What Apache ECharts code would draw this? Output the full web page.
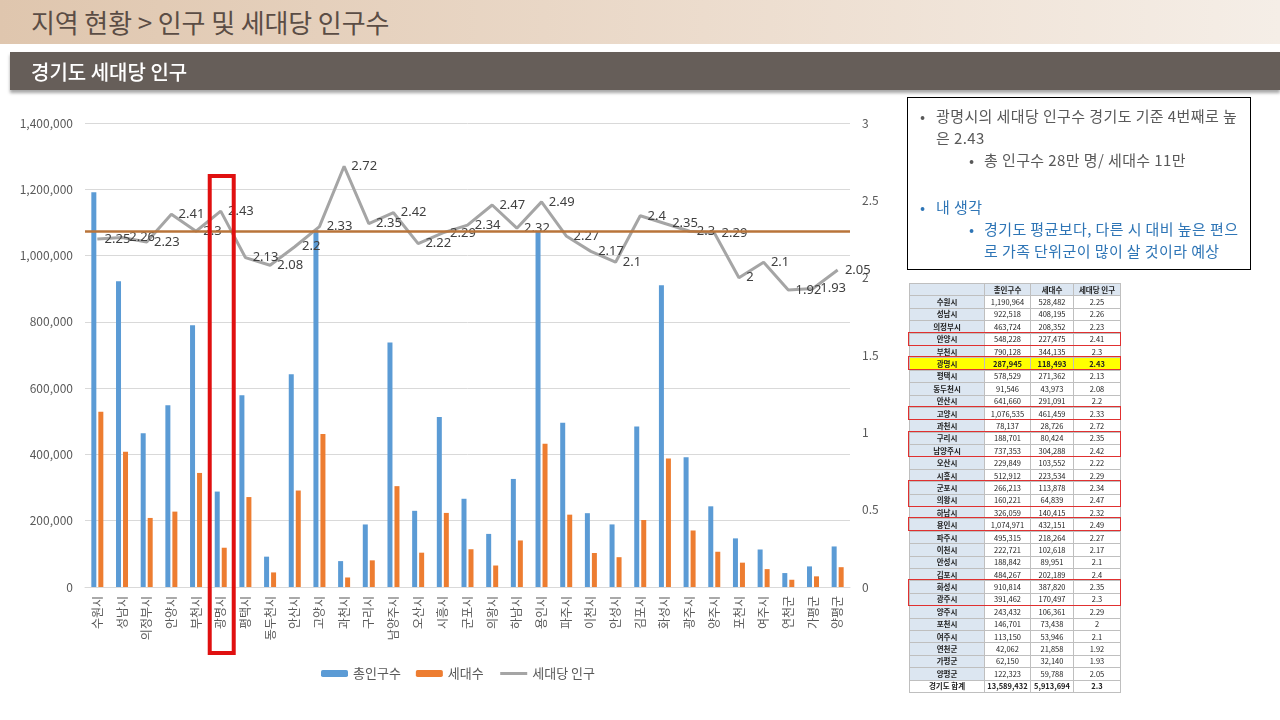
<!DOCTYPE html>
<html><head><meta charset="utf-8">
<script src="https://cdn.jsdelivr.net/npm/echarts@6/dist/echarts.min.js"></script>
<style>
body{margin:0;width:1280px;height:720px;overflow:hidden;background:#fff;font-family:"Noto Sans CJK KR","Noto Sans",sans-serif;position:relative}
#chart{position:absolute;left:0;top:0;width:1280px;height:720px}
#hdr{position:absolute;left:0;top:0;width:1280px;height:44px;background:linear-gradient(to right,#dfc6ae,#ecdccd 55%,#f5eee7);}
#hdr span{position:absolute;left:31px;top:3px;font-size:26px;color:#5b4d45;letter-spacing:-0.1px}
#sub{position:absolute;left:10px;top:52px;width:1270px;height:38px;background:#665e59;box-shadow:0 3px 3px rgba(0,0,0,0.35)}
#sub span{position:absolute;left:21px;top:5px;font-size:20px;color:#fff;font-weight:500}
#note{position:absolute;left:907px;top:97px;width:342px;height:171px;border:1px solid #000;font-size:15px;color:#595959;line-height:22px;letter-spacing:0.4px}
#note .b{position:absolute;white-space:nowrap}
#tbl{position:absolute;left:909px;top:283px;border-collapse:collapse;font-size:7.5px;color:#222;table-layout:fixed}
#tbl td{height:11.4px;padding:0;text-align:center;border:1px solid #bfbfbf;line-height:10px}
#tbl td.n{background:#dce6f1;font-weight:bold}
#tbl tr.h td{background:#dce6f1;font-weight:bold}
#tbl tr.y td{background:#ffff00;font-weight:bold}
#tbl tr.t td{font-weight:bold;background:#fff}
.rb{position:absolute;border:1.5px solid #e03030;box-sizing:border-box;left:908px;width:213px}
</style></head>
<body>
<div id="chart"></div>
<div id="hdr"><span>지역 현황 &gt; 인구 및 세대당 인구수</span></div>
<div id="sub"><span>경기도 세대당 인구</span></div>
<div id="note">
 <div class="b" style="left:12px;top:7px">•</div>
 <div class="b" style="left:28px;top:7px">광명시의 세대당 인구수 경기도 기준 4번째로 높<br>은 2.43</div>
 <div class="b" style="left:61px;top:51px">•</div>
 <div class="b" style="left:76px;top:51px">총 인구수 28만 명/ 세대수 11만</div>
 <div class="b" style="left:12px;top:98px;color:#2e75b6">•</div>
 <div class="b" style="left:28px;top:98px;color:#2e75b6">내 생각</div>
 <div class="b" style="left:61px;top:120px;color:#2e75b6">•</div>
 <div class="b" style="left:76px;top:120px;color:#2e75b6">경기도 평균보다, 다른 시 대비 높은 편으<br>로 가족 단위군이 많이 살 것이라 예상</div>
</div>
<table id="tbl"></table>
<script>
const categories = ['수원시','성남시','의정부시','안양시','부천시','광명시','평택시','동두천시','안산시','고양시','과천시','구리시','남양주시','오산시','시흥시','군포시','의왕시','하남시','용인시','파주시','이천시','안성시','김포시','화성시','광주시','양주시','포천시','여주시','연천군','가평군','양평군'];
const population = [1190964,922518,463724,548228,790128,287945,578529,91546,641660,1076535,78137,188701,737353,229849,512912,266213,160221,326059,1074971,495315,222721,188842,484267,910814,391462,243432,146701,113150,42062,62150,122323];
const households = [528482,408195,208352,227475,344135,118493,271362,43973,291091,461459,28726,80424,304288,103552,223534,113878,64839,140415,432151,218264,102618,89951,202189,387820,170497,106361,73438,53946,21858,32140,59788];
const perHousehold = [2.25,2.26,2.23,2.41,2.3,2.43,2.13,2.08,2.2,2.33,2.72,2.35,2.42,2.22,2.29,2.34,2.47,2.32,2.49,2.27,2.17,2.1,2.4,2.35,2.3,2.29,2,2.1,1.92,1.93,2.05];
const seriesNames = ['총인구수','세대수','세대당 인구'];
const provinceAverage = 2.3;
const totalRow = ['경기도 합계','13,589,432','5,913,694','2.3'];
const tableHeader = ['','총인구수','세대수','세대당 인구'];
const highlightCity = '광명시';
const boxedGroups = [['안양시'],['고양시'],['구리시','남양주시'],['군포시','의왕시'],['용인시'],['화성시','광주시']];

// table
const fmt = v => v.toLocaleString('en-US');
const tbl = document.getElementById('tbl');
let html = '<colgroup><col style="width:75px"><col style="width:46px"><col style="width:43px"><col style="width:47px"></colgroup>';
html += '<tr class="h">' + tableHeader.map(h => '<td>' + h + '</td>').join('') + '</tr>';
categories.forEach((c, i) => {
  html += '<tr' + (c === highlightCity ? ' class="y"' : '') + '><td class="n">' + c + '</td><td>' + fmt(population[i]) + '</td><td>' + fmt(households[i]) + '</td><td>' + perHousehold[i] + '</td></tr>';
});
html += '<tr class="t">' + totalRow.map((t, i) => '<td' + (i === 0 ? ' class="n"' : '') + '>' + t + '</td>').join('') + '</tr>';
tbl.innerHTML = html;
const rows = tbl.rows;
function boxRows(names) {
  const a = rows[categories.indexOf(names[0]) + 1], b = rows[categories.indexOf(names[names.length - 1]) + 1];
  const top = a.offsetTop + tbl.offsetTop, bottom = b.offsetTop + b.offsetHeight + tbl.offsetTop;
  const d = document.createElement('div');
  d.className = 'rb';
  d.style.top = (top - 1) + 'px';
  d.style.height = (bottom - top + 2) + 'px';
  document.body.appendChild(d);
}
boxedGroups.forEach(boxRows);
boxRows([highlightCity]);

const chart = echarts.init(document.getElementById('chart'));
const axisText = {color:'#595959', fontSize:12, fontFamily:'"Noto Sans CJK KR", sans-serif'};
chart.setOption({
  animation:false,
  grid:{left:85, right:430, top:123, bottom:133},
  legend:{
    data:[seriesNames[0], seriesNames[1],
      {name:seriesNames[2], itemStyle:{color:'rgba(0,0,0,0)', borderWidth:0, opacity:0}, lineStyle:{width:3, color:'#a5a5a5'}}],
    left:316, top:662, itemGap:15, itemWidth:27, itemHeight:7,
    textStyle:{color:'#595959', fontSize:13, fontFamily:'"Noto Sans CJK KR", sans-serif'}
  },
  xAxis:{
    type:'category', data:categories,
    axisLine:{lineStyle:{color:'#d9d9d9'}}, axisTick:{show:false},
    axisLabel:Object.assign({rotate:90, interval:0, margin:9}, axisText)
  },
  yAxis:[
    {type:'value', min:0, max:1400000, interval:200000,
     axisLabel:Object.assign({formatter:v => v.toLocaleString('en-US'), margin:12}, axisText),
     splitLine:{lineStyle:{color:'#d9d9d9'}}},
    {type:'value', min:0, max:3, interval:0.5,
     axisLabel:Object.assign({margin:12}, axisText), splitLine:{show:false}}
  ],
  series:[
    {name:seriesNames[0], type:'bar', data:population, barWidth:5, barGap:'40%', itemStyle:{color:'#5b9bd5'}},
    {name:seriesNames[1], type:'bar', data:households, barWidth:5, itemStyle:{color:'#ed7d31'}},
    {name:seriesNames[2], type:'line', yAxisIndex:1, data:perHousehold, showSymbol:true, symbol:'circle', symbolSize:0.5,
     lineStyle:{color:'#a5a5a5', width:3}, itemStyle:{color:'#a5a5a5'},
     label:{show:true, position:'right', color:'#404040', fontSize:13, distance:7, fontFamily:'"Noto Sans", sans-serif'},
     markLine:{silent:true, symbol:'none', label:{show:false},
       lineStyle:{color:'#b9743a', width:2.5, type:'solid'},
       data:[{yAxis:provinceAverage}]}}
  ]
});
// red highlight box around the highlighted category (annotation)
const cx = chart.convertToPixel({xAxisIndex:0}, highlightCity);
const yTop = chart.convertToPixel({yAxisIndex:0}, 1240000);
chart.setOption({graphic:[{type:'rect', shape:{x:cx - 11, y:yTop, width:24, height:653 - yTop},
  style:{fill:'none', stroke:'#e01010', lineWidth:4}, z:100}]});
</script>
</body></html>
